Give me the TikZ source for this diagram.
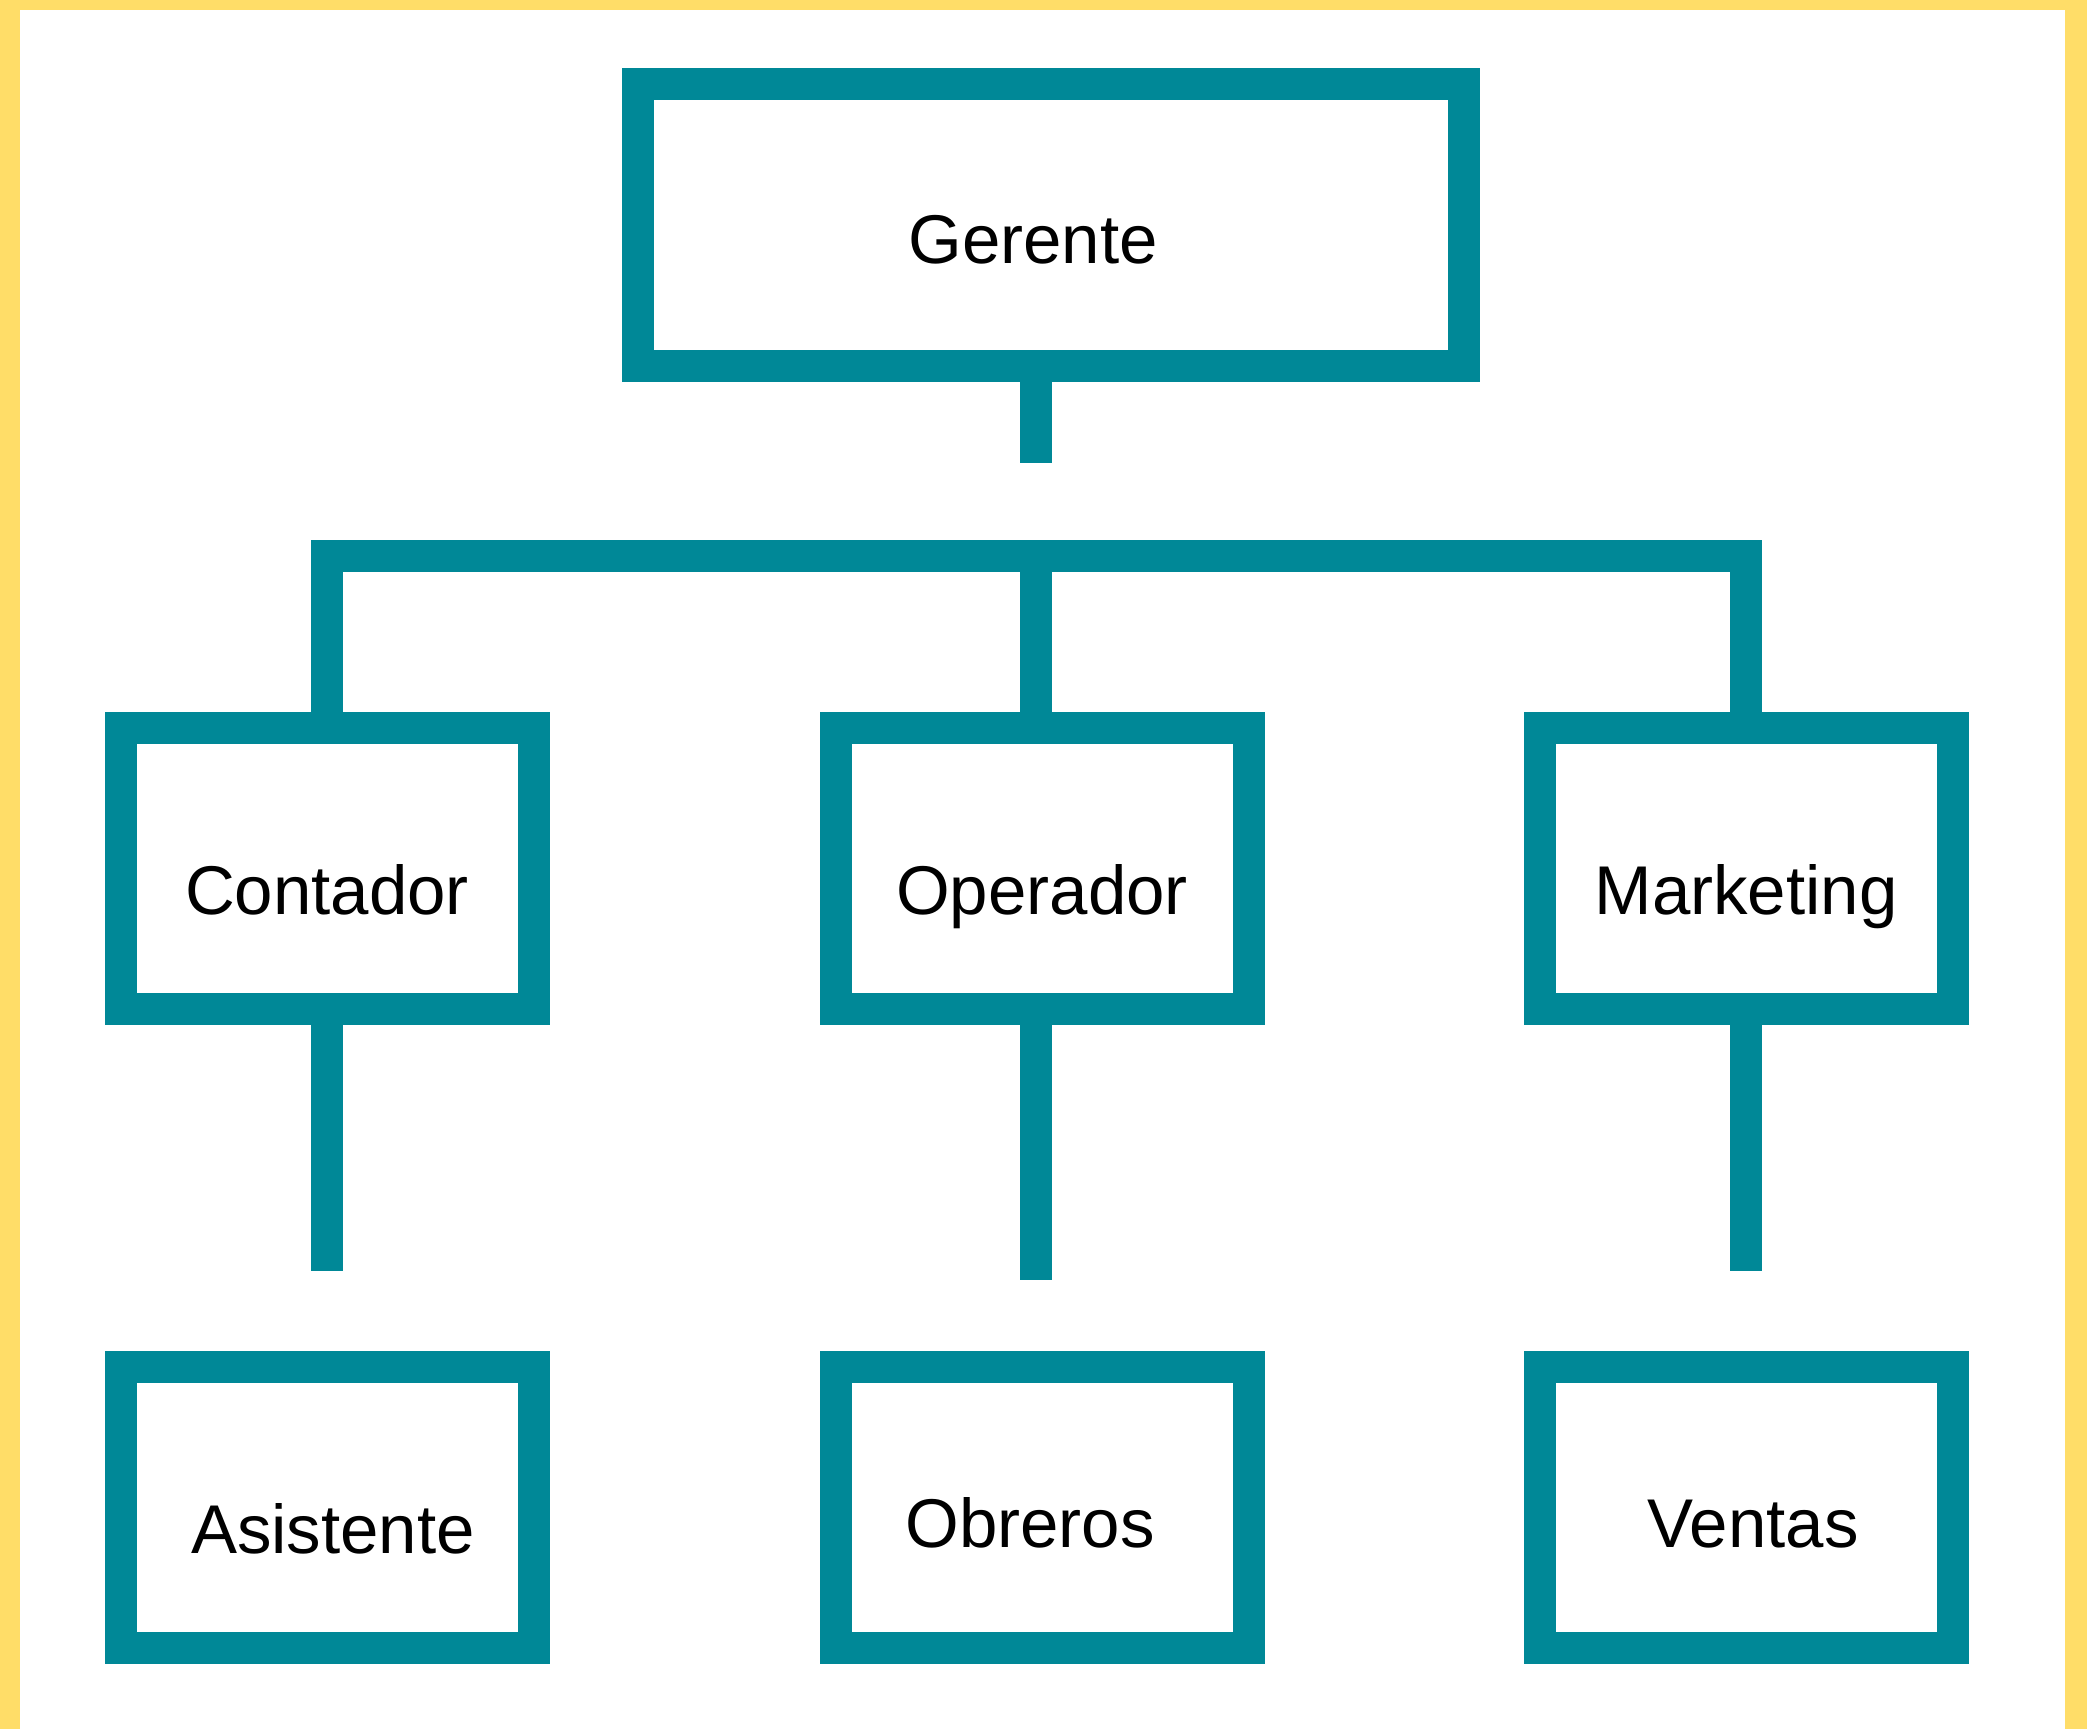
\documentclass[tikz,border=0pt]{standalone}
\usepackage{fontspec}
\setmainfont{Liberation Sans}
\definecolor{teal1}{RGB}{0,136,151}
\definecolor{yel}{RGB}{255,221,104}
\tikzset{
  orgbox/.style={draw=teal1, line width=16pt, fill=white, rectangle, inner sep=0pt,
    minimum width=206.5pt, minimum height=140.5pt, text height=40pt, text depth=0pt,
    font=\fontsize{34.5}{40}\selectfont},
  lowtext/.style={text height=46pt},
  topbox/.style={orgbox, minimum width=413pt, minimum height=141pt, text height=38pt},
  link/.style={draw=teal1, line width=16pt, line cap=butt, line join=miter}
}
\begin{document}
\begin{tikzpicture}[x=0.5pt,y=-0.5pt]
\useasboundingbox (0,0) rectangle (2087,1729);
\fill[yel] (0,0) rectangle (2087,1729);
\fill[white] (20,10) rectangle (2065,1729);

\node[topbox] (ger) at (1051,225) {\hspace*{-18pt}Gerente};

\node[orgbox, lowtext] (con) at (327,868.5) {Contador};
\node[orgbox, lowtext] (ope) at (1042,868.5) {Operador};
\node[orgbox, lowtext] (mkt) at (1746,868.5) {Marketing};

\node[orgbox, lowtext] (asi) at (327,1507.5) {\hspace*{6pt}Asistente};
\node[orgbox] (obr) at (1042,1507.5) {\hspace*{-12pt}Obreros};
\node[orgbox] (ven) at (1746,1507.5) {\hspace*{7pt}Ventas};

\coordinate (gend) at (1036,463);
\coordinate (hub) at (1036,556);
\coordinate (lcorner) at (327,556);
\coordinate (rcorner) at (1746,556);
\coordinate (cend) at (327,1271);
\coordinate (oend) at (1036,1280);
\coordinate (mend) at (1746,1271);

\draw[link] (gend |- ger.south) -- (gend);
\draw[link] (con.north) -- (lcorner) -- (rcorner) -- (mkt.north);
\draw[link] (hub) -- (hub |- ope.north);
\draw[link] (con.south) -- (cend);
\draw[link] (oend |- ope.south) -- (oend);
\draw[link] (mkt.south) -- (mend);
\end{tikzpicture}
\end{document}
